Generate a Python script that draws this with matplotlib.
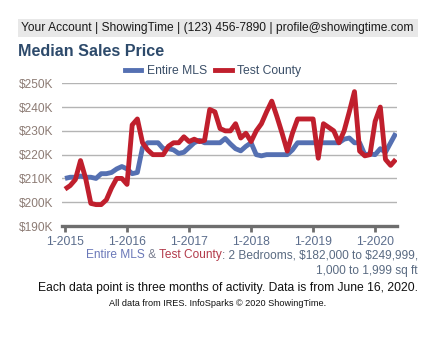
import matplotlib
matplotlib.use("Agg")
import matplotlib.pyplot as plt
from matplotlib.patches import Rectangle
from matplotlib.lines import Line2D

plt.rcParams['font.family'] = ['Liberation Sans', 'DejaVu Sans']
plt.rcParams['text.parse_math'] = False

# ---- data (monthly, Jan 2015 .. May 2020), values in $K ----
entire_mls = [210, 210.5, 210.5, 211, 210.5, 210.5, 210, 212, 212, 212.5, 214, 215,
              214, 212, 212.5, 223, 225, 225, 225, 222.5, 222.5, 222, 220.5, 221,
              223, 225, 226, 225, 225, 225, 225, 226.8, 224.5, 222.5, 221.6, 223.5,
              225, 220, 219.5, 220, 220, 220, 220, 220, 222, 225, 225, 225,
              225, 225, 225, 225, 225, 225, 226.5, 227, 225, 225, 220, 220.3,
              220, 222.5, 221, 225, 229]
test_county = [205.5, 207, 209.5, 217.5, 210, 199.5, 199, 199, 201, 206, 210, 210,
               207.5, 232.5, 235, 225, 222, 220, 220, 220, 223.5, 225, 225, 227.5,
               225.5, 226.5, 225.5, 226, 239, 238, 231, 230, 230, 233, 227, 229,
               225.5, 230, 233, 238, 242.5, 236, 229, 221.5, 229, 235, 235, 235,
               235, 218.5, 233, 231.5, 230, 225, 230, 238, 246.5, 221.5, 219.5, 220,
               234, 240, 218, 215.5, 218]
series_names = ["Entire MLS", "Test County"]
x_tick_labels = ["1-2015", "1-2016", "1-2017", "1-2018", "1-2019", "1-2020"]
y_ticks = [190, 200, 210, 220, 230, 240, 250]
y_tick_labels = ["$%dK" % v for v in y_ticks]

BLUE = "#5570b2"
RED = "#c01f2d"

W, H = 435, 339
fig = plt.figure(figsize=(W / 100, H / 100), dpi=100)

def fx(px):
    return px / W

def fy(py):
    return 1 - py / H

# banner
fig.patches.append(Rectangle((fx(18), fy(37)), fx(418) - fx(18), fy(19) - fy(37),
                             transform=fig.transFigure, facecolor="#e8e8e8",
                             edgecolor="none", zorder=0))
fig.text(fx(217.5), fy(28), "Your Account | ShowingTime | (123) 456-7890 | profile@showingtime.com",
         ha="center", va="center", fontsize=8.65, color="#1a1a1a")

# title
fig.text(fx(18), fy(51), "Median Sales Price", ha="left", va="center",
         fontsize=11.6, fontweight="bold", color="#2d4a6b")

# axes
ax = fig.add_axes([fx(62), fy(226), fx(397) - fx(62), fy(83.3) - fy(226)])
n = len(entire_mls)
months = list(range(n))
ax.plot(months, entire_mls, color=BLUE, lw=3.5, solid_joinstyle="round",
        solid_capstyle="butt", zorder=3)
ax.plot(months, test_county, color=RED, lw=3.5, solid_joinstyle="round",
        solid_capstyle="butt", zorder=4)

ax.set_xlim(-0.58, 64.23)
ax.set_ylim(190, 250)
ax.set_yticks(y_ticks)
ax.set_yticklabels(y_tick_labels)
ax.set_xticks([12 * k for k in range(len(x_tick_labels))])
ax.set_xticklabels(x_tick_labels)
for s in ["top", "right", "left"]:
    ax.spines[s].set_visible(False)
ax.spines["bottom"].set_color("#6e6e6e")
ax.spines["bottom"].set_linewidth(2.4)
ax.spines["bottom"].set_zorder(5)
ax.grid(axis="y", color="#b4b4b4", lw=1.0, zorder=1)
ax.set_axisbelow(True)
ax.tick_params(axis="y", length=0, pad=6.5, labelsize=8.6, labelcolor="#8c7b74")
ax.tick_params(axis="x", length=4, width=2, color="#6e6e6e", pad=3.5,
               labelsize=8.8, labelcolor="#5b6d8c")
ax.patch.set_alpha(0)

# legend
handles = [Line2D([], [], color=BLUE, lw=3.5), Line2D([], [], color=RED, lw=3.5)]
leg = fig.legend(handles, series_names, loc="center", bbox_to_anchor=(fx(213), fy(71)),
                 ncol=2, frameon=False, fontsize=8.7, handlelength=1.35,
                 handletextpad=0.45, columnspacing=0.7, borderaxespad=0)
for t in leg.get_texts():
    t.set_color("#3b4f68")

# footnote line 1 with colored pieces, right aligned at x=418
pieces = [("Entire MLS", "#6a78b8"), (" & ", "#7a7f90"), ("Test County", "#b23a4a"),
          (": 2 Bedrooms, $182,000 to $249,999,", "#5a6b82")]
renderer = fig.canvas.get_renderer()
txts = []
for s, c in pieces:
    t = fig.text(0, fy(255), s, ha="left", va="center", fontsize=8.6, color=c)
    txts.append(t)
widths = [t.get_window_extent(renderer).width for t in txts]
x = 418 - sum(widths)
for t, w in zip(txts, widths):
    t.set_x(fx(x))
    x += w

fig.text(fx(418), fy(271), "1,000 to 1,999 sq ft", ha="right", va="center",
         fontsize=8.6, color="#5a6b82")
fig.text(fx(418), fy(288), "Each data point is three months of activity. Data is from June 16, 2020.",
         ha="right", va="center", fontsize=8.7, color="#111111")
fig.text(fx(218), fy(303), "All data from IRES. InfoSparks \u00a9 2020 ShowingTime.",
         ha="center", va="center", fontsize=6.6, color="#111111")

fig.savefig("out.png", dpi=100, facecolor="white")
